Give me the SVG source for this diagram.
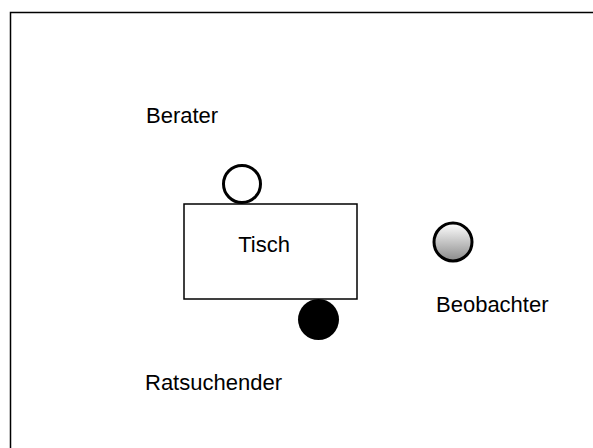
<svg xmlns="http://www.w3.org/2000/svg" width="593" height="448" viewBox="0 0 593 448">
<style>
text{font-family:"Liberation Sans",Arial,sans-serif;font-size:22px;fill:#000}
.o{stroke:#000;stroke-width:3}
</style>
<defs>
<linearGradient id="g" x1="0" y1="0" x2="0" y2="1">
<stop offset="0" stop-color="#ffffff"/>
<stop offset="1" stop-color="#8a8a8a"/>
</linearGradient>
</defs>
<rect width="593" height="448" fill="#fff"/>
<path d="M10.5,448 V12.5 H593" fill="none" stroke="#000" stroke-width="1.5"/>
<g id="tisch">
<rect x="184" y="204" width="173" height="95" fill="#fff" stroke="#000" stroke-width="1.5"/>
<text x="264" y="252" text-anchor="middle" font-size="16.5">Tisch</text>
</g>
<g id="berater">
<circle cx="242" cy="184" r="18.5" fill="#fff" class="o"/>
<text x="146" y="123">Berater</text>
</g>
<g id="ratsuchender">
<circle cx="318.5" cy="319.5" r="20.5" fill="#000"/>
<text x="145" y="390">Ratsuchender</text>
</g>
<g id="beobachter">
<circle cx="453" cy="242" r="19" fill="url(#g)" class="o"/>
<text x="436" y="312">Beobachter</text>
</g>
<g id="connectors"/>
</svg>
